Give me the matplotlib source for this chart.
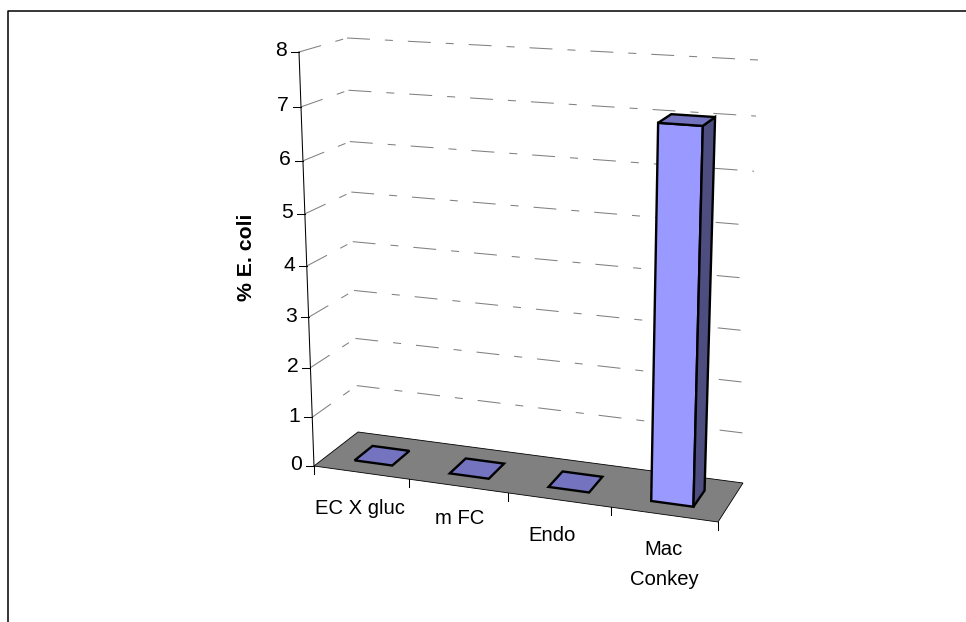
import matplotlib
matplotlib.use("Agg")
import matplotlib.pyplot as plt
from matplotlib.patches import Polygon
import numpy as np

categories = ["EC X gluc", "m FC", "Endo", "Mac\nConkey"]
values = [0.0, 0.0, 0.0, 7.06]
y_ticks = [0, 1, 2, 3, 4, 5, 6, 7, 8]
y_title = "% E. coli"

W, H = 966, 622
plt.rcParams["font.family"] = ["Liberation Sans", "DejaVu Sans"]
fig = plt.figure(figsize=(W / 100, H / 100), dpi=100)
ax = fig.add_axes([0, 0, 1, 1])
ax.set_xlim(0, W)
ax.set_ylim(H, 0)
ax.axis("off")

# corners of the 3D box on the page: (front/back, left/right) at v=0 and at v=max
FLOOR = {"fl": (314, 466), "fr": (718, 522), "bl": (358, 432), "br": (743, 483)}
TOP = {"fl": (299, 52), "fr": (730, 79), "bl": (347, 38), "br": (758, 60)}
VMAX = y_ticks[-1]
NCAT = len(categories)


def warp(t, w):
    return t / (t + w * (1 - t))


def proj(x, d, v):
    """x in category units, d depth 0..1, v value -> page position."""
    f = warp(x / NCAT, 1.08)
    s = warp(v / VMAX, 1.07)
    out = []
    for i in (0, 1):
        fl = FLOOR["fl"][i] * (1 - s) + TOP["fl"][i] * s
        fr = FLOOR["fr"][i] * (1 - s) + TOP["fr"][i] * s
        bl = FLOOR["bl"][i] * (1 - s) + TOP["bl"][i] * s
        br = FLOOR["br"][i] * (1 - s) + TOP["br"][i] * s
        out.append((1 - f) * (1 - d) * fl + f * (1 - d) * fr + (1 - f) * d * bl + f * d * br)
    return tuple(out)


def poly(pts, fc, lw=1.7, ec="black", z=3):
    ax.add_patch(Polygon(pts, closed=True, fc=fc, ec=ec, lw=lw, zorder=z, joinstyle="miter"))


# frame: only the left and top edges are visible
ax.plot([7.8, 7.8, W], [H, 10.6, 10.6], color="black", lw=1.1, zorder=1)

# gridlines on the side and back walls
dash = (0, (22, 14.4, 7.7, 14.4))
for v in y_ticks[1:]:
    a, b, c = proj(0, 0, v), proj(0, 1, v), proj(NCAT, 1, v)
    ax.plot([a[0], b[0]], [a[1], b[1]], color="#808080", lw=0.75, ls=dash, zorder=1)
    ax.plot([b[0], c[0]], [b[1], c[1]], color="#808080", lw=0.75, ls=dash, zorder=1)

# floor
poly([proj(0, 0, 0), proj(NCAT, 0, 0), proj(NCAT, 1, 0), proj(0, 1, 0)], "#808080", lw=0.6, z=2)

# value axis
a, b = proj(0, 0, 0), proj(0, 0, VMAX)
ax.plot([a[0], b[0]], [a[1], b[1]], color="black", lw=0.75, zorder=4)
for v in y_ticks:
    p = proj(0, 0, v)
    ax.plot([p[0] - 8, p[0]], [p[1], p[1]], color="black", lw=0.75, zorder=4)
    ax.text(p[0] - 12, p[1] - 1, str(v), ha="right", va="center", fontsize=15.2, color="black")

# category axis
for i in range(NCAT + 1):
    p = proj(i, 0, 0)
    ax.plot([p[0], p[0]], [p[1], p[1] + 8], color="black", lw=0.75, zorder=4)

label_off = [(-1, 36), (1, 33), (-7, 36), (0, 50)]
for i, (name, off) in enumerate(zip(categories, label_off)):
    p = proj(i + 0.5, 0, 0)
    ax.text(p[0] + off[0], p[1] + off[1], name, ha="center", va="center", fontsize=14.6,
            linespacing=1.75, color="black")

ax.text(246.5, 257.5, y_title, rotation=90, ha="center", va="center", fontsize=15.3,
        fontweight="bold", color="black")

# bars
D0, D1 = 0.28, 0.70
for i, val in enumerate(values):
    x0, x1 = i + 0.305, i + 0.705
    if val > 0:
        poly([proj(x0, D0, 0), proj(x1, D0, 0), proj(x1, D0, val), proj(x0, D0, val)], "#9999FF", z=5)
        poly([proj(x1, D0, 0), proj(x1, D1, 0), proj(x1, D1, val), proj(x1, D0, val)], "#4D4D80", z=5)
    poly([proj(x0, D0, val), proj(x1, D0, val), proj(x1, D1, val), proj(x0, D1, val)], "#7373BF", z=5)

fig.savefig("out.png", dpi=100)
